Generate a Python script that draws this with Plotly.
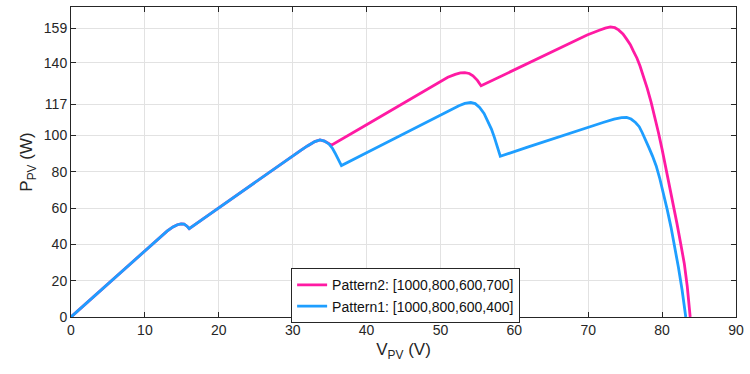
import plotly.graph_objects as go

# Pattern1 [1000,800,600,400]
v1 = [0, 5, 10, 12, 13, 13.8, 14.4, 14.9, 15.3, 15.7, 16.0,
      18.7, 25, 29.5, 31, 32, 33, 33.7, 34.3, 34.9, 35.4, 35.8, 36.2, 36.6,
      40, 47, 50, 51.5, 52.5, 53.3, 54.1, 54.7, 55.3, 55.9, 56.4, 56.9, 57.3, 57.7, 58.1,
      61.8, 66, 69.85, 72, 73.5, 74.5, 75.2, 75.8, 76.4, 76.9, 77.3, 77.8, 78.2, 78.7, 79.2,
      79.7, 80.2, 80.7, 81.2, 81.7, 82.2, 82.7, 83.2]
p1 = [0, 18.4, 36.8, 44.0, 47.3, 49.6, 50.8, 51.3, 51.1, 50.0, 48.6,
      56.4, 74.6, 87.6, 91.5, 94.2, 96.6, 97.5, 96.9, 95.3, 92.8, 89.8, 86.7, 83.4,
      90.5, 105.2, 111.5, 114.3, 116.3, 117.6, 118.1, 117.5, 115.4, 112.1, 108.1, 103.5, 98.9, 93.8, 88.5,
      93.5, 99.2, 104.4, 107.1, 108.9, 109.8, 109.9, 109.0, 107.1, 104.8, 101.6, 97.3, 93.4, 88.6, 83.2,
      76.0, 67.8, 59.0, 49.5, 39.0, 27.5, 15.0, 0]

# Pattern2 [1000,800,600,700]
v2 = [0, 5, 10, 12, 13, 13.8, 14.4, 14.9, 15.3, 15.7, 16.0,
      18.7, 25, 29.5, 31, 32, 33, 33.7, 34.3, 35.0, 35.3,
      40, 47, 50, 51, 52, 52.7, 53.3, 53.9, 54.4, 55.0, 55.5,
      61.8, 66, 69.85, 71.5, 72.3, 73.0, 73.6, 74.1, 74.7, 75.2, 75.7, 76.1, 76.6, 77.0,
      77.5, 78.0, 78.5, 79.0, 79.5, 80.0, 80.5, 81.0, 81.5, 82.0, 82.5, 83.0, 83.4, 83.8]
p2 = [0, 18.4, 36.8, 44.0, 47.3, 49.6, 50.8, 51.3, 51.1, 50.0, 48.6,
      56.4, 74.6, 87.6, 91.5, 94.2, 96.6, 97.5, 96.9, 95.3, 94.7,
      105.9, 122.7, 129.9, 132.0, 133.6, 134.4, 134.6, 134.1, 132.8, 130.3, 127.3,
      139.6, 147.8, 155.3, 157.9, 159.1, 159.7, 159.3, 158.1, 155.9, 153.0, 150.0, 146.5, 142.5, 138.3,
      132.4, 125.8, 118.5, 110.4, 101.6, 92.3, 82.6, 72.3, 62.0, 51.7, 40.8, 29.5, 17.0, 0]

name1 = "Pattern1: [1000,800,600,400]"
name2 = "Pattern2: [1000,800,600,700]"
x_ticks = [0, 10, 20, 30, 40, 50, 60, 70, 80, 90]
y_ticks = [0, 20, 40, 60, 80, 100, 117, 140, 159]

fig = go.Figure()
fig.add_trace(go.Scatter(x=v2, y=p2, mode="lines", name=name2,
                         line=dict(color="#FF1AA3", width=2.8)))
fig.add_trace(go.Scatter(x=v1, y=p1, mode="lines", name=name1,
                         line=dict(color="#1E9EFF", width=2.8)))

axis_common = dict(showgrid=True, gridcolor="#E2E2E2", gridwidth=1,
                   showline=True, linecolor="#262626", linewidth=1, mirror="ticks",
                   ticks="inside", ticklen=5, tickcolor="#262626",
                   tickfont=dict(family="Arial, Liberation Sans", size=14, color="#262626"),
                   zeroline=False)

fig.update_layout(
    width=750, height=374,
    margin=dict(l=71, r=9, t=6, b=57),
    paper_bgcolor="white", plot_bgcolor="white",
    xaxis=dict(range=[0, 90], tickvals=x_ticks,
               title=dict(text="V<sub>PV</sub> (V)", standoff=6,
                          font=dict(family="Arial, Liberation Sans", size=17, color="#262626")),
               **axis_common),
    yaxis=dict(range=[0, 170.7], tickvals=y_ticks,
               title=dict(text="P<sub>PV</sub> (W)", standoff=6,
                          font=dict(family="Arial, Liberation Sans", size=17, color="#262626")),
               **axis_common),
    legend=dict(x=0.331, y=0.157, xanchor="left", yanchor="top",
                bgcolor="white", bordercolor="#262626", borderwidth=1,
                font=dict(family="Arial, Liberation Sans", size=14, color="#111111"),
                tracegroupgap=0, itemwidth=30),
    showlegend=True,
)

fig.write_html("out.html")
